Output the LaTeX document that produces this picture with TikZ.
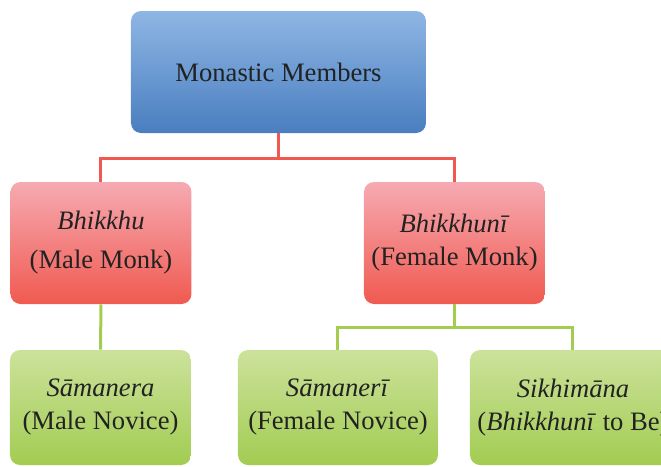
\documentclass[tikz,border=0pt]{standalone}
\usepackage{fontspec}
\setmainfont{Liberation Serif}
\definecolor{bluetop}{RGB}{142,182,228}
\definecolor{bluebot}{RGB}{74,126,192}
\definecolor{redtop}{RGB}{246,170,178}
\definecolor{redbot}{RGB}{240,90,80}
\definecolor{greentop}{RGB}{204,226,155}
\definecolor{greenbot}{RGB}{162,204,82}
\definecolor{redline}{RGB}{240,88,80}
\definecolor{greenline}{RGB}{164,204,80}
\definecolor{txt}{RGB}{34,34,34}
\tikzset{
  box/.style={rectangle, rounded corners=5pt, inner sep=0pt, align=center,
    text=txt, font=\fontsize{13.3pt}{16.5pt}\selectfont},
  bluebox/.style={box, top color=bluetop, bottom color=bluebot},
  redbox/.style={box, top color=redtop, bottom color=redbot, minimum width=90.5pt, minimum height=61pt},
  greenbox/.style={box, top color=greentop, bottom color=greenbot, minimum height=57.5pt},
  redconn/.style={draw=redline, line width=1.5pt},
  greenconn/.style={draw=greenline, line width=1.5pt},
}
\begin{document}
\begin{tikzpicture}[x=0.5pt,y=-0.5pt]
\useasboundingbox (0,0) rectangle (661,467);
\node[bluebox, minimum width=147.5pt, minimum height=61pt] (top) at (278.5,72) {Monastic Members};
\node[redbox, font=\fontsize{13.3pt}{19.5pt}\selectfont] (bh) at (101,243) {\textit{Bhikkhu}\\(Male Monk)};
\node[redbox] (bhn) at (454.5,243) {\textit{Bhikkhunī}\\(Female Monk)};
\node[greenbox, minimum width=90.5pt] (sam) at (100.5,407.5) {\textit{Sāmanera}\\(Male Novice)};
\node[greenbox, minimum width=100pt] (samr) at (338,407.5) {\textit{Sāmanerī}\\(Female Novice)};
\node[greenbox, minimum width=103pt] (sik) at (573,407.5) {\textit{Sikhimāna}\\(\textit{Bhikkhunī} to Be)};
\draw[redconn] (top.south) -- ++(0,25) -| (bh.north);
\draw[redconn] (top.south) -- ++(0,25) -| (bhn.north);
\draw[greenconn] (bh.south) -- (sam.north);
\draw[greenconn] (bhn.south) -- ++(0,23) -| (samr.north);
\draw[greenconn] (bhn.south) -- ++(0,23) -| (sik.north);
\end{tikzpicture}
\end{document}
